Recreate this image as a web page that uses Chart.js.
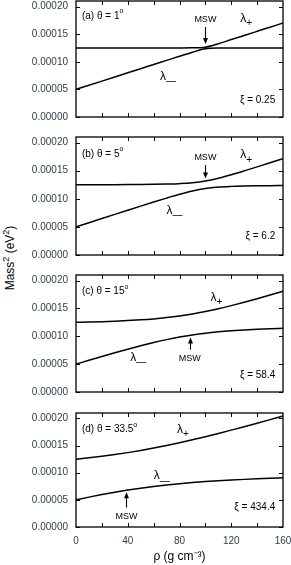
<!DOCTYPE html>
<html>
<head>
<meta charset="utf-8">
<script src="https://cdn.jsdelivr.net/npm/chart.js@4.4.1/dist/chart.umd.min.js"></script>
<style>
  body { margin: 0; background: #fff; }
  #wrap { position: relative; width: 291px; height: 565px; overflow: hidden; }
  .panel { position: absolute; left: 0; width: 291px; }
  .ytitle {
    position: absolute; left: 9px; top: 258px;
    transform: translate(-50%, -50%) rotate(-90deg);
    font: 12px "Liberation Sans", Arial, sans-serif; color: #000; white-space: nowrap;
  }
  .ytitle sup { font-size: 9px; }
</style>
</head>
<body>
<div id="wrap">
  <div class="ytitle">Mass<sup>2</sup> (eV<sup>2</sup>)</div>
</div>
<script>
// density values (g cm^-3)
const rho = [0, 10, 20, 30, 40, 50, 60, 70, 80, 90, 100, 110, 120, 130, 140, 150, 160];
const xMarks = [20, 40, 60, 80, 100, 120, 140];
const yTicks = [0, 0.00005, 0.0001, 0.00015, 0.0002];

// eigenvalues (eV^2)
const plusA  = [12.5e-5, 12.5e-5, 12.5e-5, 12.5e-5, 12.501e-5, 12.501e-5, 12.502e-5, 12.505e-5, 12.509e-5, 12.52e-5, 12.631e-5, 13.274e-5, 14.014e-5, 14.76e-5, 15.508e-5, 16.257e-5, 17.006e-5];
const minusA = [5.0e-5, 5.75e-5, 6.5e-5, 7.25e-5, 8.0e-5, 8.75e-5, 9.5e-5, 10.245e-5, 10.991e-5, 11.73e-5, 12.369e-5, 12.476e-5, 12.486e-5, 12.49e-5, 12.492e-5, 12.493e-5, 12.494e-5];
const plusB  = [12.5e-5, 12.506e-5, 12.514e-5, 12.524e-5, 12.538e-5, 12.556e-5, 12.583e-5, 12.626e-5, 12.701e-5, 12.85e-5, 13.154e-5, 13.656e-5, 14.287e-5, 14.974e-5, 15.688e-5, 16.414e-5, 17.147e-5];
const minusB = [5.0e-5, 5.744e-5, 6.486e-5, 7.226e-5, 7.962e-5, 8.694e-5, 9.417e-5, 10.124e-5, 10.799e-5, 11.4e-5, 11.846e-5, 12.094e-5, 12.213e-5, 12.276e-5, 12.312e-5, 12.336e-5, 12.353e-5];
const plusC  = [12.5e-5, 12.555e-5, 12.623e-5, 12.707e-5, 12.813e-5, 12.949e-5, 13.124e-5, 13.351e-5, 13.641e-5, 14.004e-5, 14.441e-5, 14.945e-5, 15.505e-5, 16.108e-5, 16.743e-5, 17.403e-5, 18.08e-5];
const minusC = [5.0e-5, 5.695e-5, 6.377e-5, 7.043e-5, 7.687e-5, 8.301e-5, 8.876e-5, 9.399e-5, 9.859e-5, 10.246e-5, 10.559e-5, 10.805e-5, 10.995e-5, 11.142e-5, 11.257e-5, 11.347e-5, 11.42e-5];
const plusD  = [12.5e-5, 12.745e-5, 13.025e-5, 13.344e-5, 13.702e-5, 14.101e-5, 14.54e-5, 15.017e-5, 15.528e-5, 16.07e-5, 16.64e-5, 17.233e-5, 17.846e-5, 18.477e-5, 19.122e-5, 19.78e-5, 20.449e-5];
const minusD = [5.0e-5, 5.505e-5, 5.975e-5, 6.406e-5, 6.798e-5, 7.149e-5, 7.46e-5, 7.733e-5, 7.972e-5, 8.18e-5, 8.361e-5, 8.517e-5, 8.654e-5, 8.773e-5, 8.878e-5, 8.97e-5, 9.051e-5];

const thetaLabels = ['(a) θ = 1', '(b) θ = 5', '(c) θ = 15', '(d) θ = 33.5'];
const xiLabels = ['ξ = 0.25', 'ξ = 6.2', 'ξ = 58.4', 'ξ = 434.4'];

const FONT = '"Liberation Sans", Arial, sans-serif';
const TICK_COLOR = '#2f3f48';

// draw text made of normal / superscript / subscript pieces
function drawRich(ctx, segs, x, y, align, size) {
    const sizeOf = s => s.sub ? Math.round(size * 0.8) : s.sup ? Math.round(size * 0.7) : size;
    let total = 0;
    segs.forEach(s => { ctx.font = sizeOf(s) + 'px ' + FONT; total += ctx.measureText(s.t).width; });
    let cx = align === 'right' ? x - total : align === 'center' ? x - total / 2 : x;
    ctx.textAlign = 'left';
    ctx.textBaseline = 'middle';
    segs.forEach(s => {
        ctx.font = sizeOf(s) + 'px ' + FONT;
        const dy = s.sup ? -size * 0.45 : s.sub ? size * 0.42 : 0;
        ctx.fillText(s.t, cx, y + dy);
        cx += ctx.measureText(s.t).width;
    });
}

const framePlugin = {
    id: 'frame',
    afterDatasetsDraw(chart) {
        const { ctx, chartArea: a, scales: { x, y } } = chart;
        ctx.save();
        ctx.strokeStyle = '#000';
        ctx.lineWidth = 1.3;
        ctx.strokeRect(a.left, a.top, a.right - a.left, a.bottom - a.top);
        ctx.beginPath();
        xMarks.forEach(v => {
            const px = Math.round(x.getPixelForValue(v)) + 0.5;
            ctx.moveTo(px, a.bottom); ctx.lineTo(px, a.bottom - 4);
            ctx.moveTo(px, a.top); ctx.lineTo(px, a.top + 4);
        });
        yTicks.forEach(v => {
            const py = Math.round(y.getPixelForValue(v)) + 0.5;
            ctx.moveTo(a.left, py); ctx.lineTo(a.left + 4, py);
            ctx.moveTo(a.right, py); ctx.lineTo(a.right - 4, py);
        });
        ctx.lineWidth = 1;
        ctx.stroke();
        ctx.restore();
    }
};

const notesPlugin = {
    id: 'notes',
    afterDatasetsDraw(chart, args, opts) {
        const { ctx, scales: { x, y } } = chart;
        ctx.save();
        ctx.fillStyle = '#000';
        ctx.strokeStyle = '#000';
        (opts.items || []).forEach(n => {
            if (n.arrow) {
                const px = Math.round(x.getPixelForValue(n.x)) + 0.5;
                const y1 = y.getPixelForValue(n.from), y2 = y.getPixelForValue(n.to);
                const dir = y2 > y1 ? 1 : -1;
                ctx.lineWidth = 1.1;
                ctx.beginPath();
                ctx.moveTo(px, y1); ctx.lineTo(px, y2 - dir * 4);
                ctx.stroke();
                ctx.beginPath();
                ctx.moveTo(px, y2);
                ctx.lineTo(px - 2.5, y2 - dir * 6);
                ctx.lineTo(px + 2.5, y2 - dir * 6);
                ctx.closePath();
                ctx.fill();
            } else {
                drawRich(ctx, n.segs, x.getPixelForValue(n.x), y.getPixelForValue(n.y), n.align || 'left', n.size || 10);
            }
        });
        ctx.restore();
    }
};

const lamPlus = [{ t: 'λ' }, { t: '+', sub: true }];
const lamMinus = [{ t: 'λ' }, { t: '—', sub: true }];
const msw = [{ t: 'MSW' }];

const panels = [
    { top: 0, padTop: 1, box: 116, plus: plusA, minus: minusA, notes: [
        { segs: [{ t: thetaLabels[0] }, { t: 'o', sup: true }], x: 4.6, y: 18.3e-5 },
        { segs: msw, x: 100, y: 17.6e-5, align: 'center', size: 9 },
        { arrow: true, x: 100, from: 16.3e-5, to: 13.2e-5 },
        { segs: lamPlus, x: 127, y: 17.8e-5, size: 12 },
        { segs: lamMinus, x: 65, y: 7.3e-5, size: 12 },
        { segs: [{ t: xiLabels[0] }], x: 154, y: 3.1e-5, align: 'right' }
    ]},
    { top: 129, padTop: 8, box: 118, plus: plusB, minus: minusB, notes: [
        { segs: [{ t: thetaLabels[1] }, { t: 'o', sup: true }], x: 4.6, y: 18.0e-5 },
        { segs: msw, x: 100, y: 17.4e-5, align: 'center', size: 9 },
        { arrow: true, x: 100, from: 16.0e-5, to: 13.6e-5 },
        { segs: lamPlus, x: 127, y: 17.8e-5, size: 12 },
        { segs: lamMinus, x: 70, y: 7.9e-5, size: 12 },
        { segs: [{ t: xiLabels[1] }], x: 154, y: 3.3e-5, align: 'right' }
    ]},
    { top: 267, padTop: 8, box: 117, plus: plusC, minus: minusC, notes: [
        { segs: [{ t: thetaLabels[2] }, { t: 'o', sup: true }], x: 4.6, y: 18.0e-5 },
        { segs: lamPlus, x: 104, y: 17.0e-5, size: 12 },
        { segs: lamMinus, x: 42, y: 6.2e-5, size: 12 },
        { segs: msw, x: 88, y: 6.0e-5, align: 'center', size: 9 },
        { arrow: true, x: 88, from: 7.6e-5, to: 9.8e-5 },
        { segs: [{ t: xiLabels[2] }], x: 154, y: 3.0e-5, align: 'right' }
    ]},
    { top: 405, padTop: 8, box: 114, plus: plusD, minus: minusD, last: true, notes: [
        { segs: [{ t: thetaLabels[3] }, { t: 'o', sup: true }], x: 4.6, y: 18.0e-5 },
        { segs: lamPlus, x: 78, y: 18.0e-5, size: 12 },
        { segs: lamMinus, x: 60, y: 9.4e-5, size: 12 },
        { segs: msw, x: 39, y: 2.0e-5, align: 'center', size: 9 },
        { arrow: true, x: 39, from: 3.6e-5, to: 6.4e-5 },
        { segs: [{ t: xiLabels[3] }], x: 154, y: 3.6e-5, align: 'right' }
    ]}
];

const wrap = document.getElementById('wrap');

panels.forEach(p => {
    const xHeight = p.last ? 38 : 0;
    const bottomPad = p.last ? 0 : 8;
    const box = document.createElement('div');
    box.className = 'panel';
    box.style.top = p.top + 'px';
    box.style.height = (p.padTop + p.box + xHeight + bottomPad) + 'px';
    const canvas = document.createElement('canvas');
    box.appendChild(canvas);
    wrap.appendChild(box);

    const line = vals => ({
        data: rho.map((r, k) => ({ x: r, y: vals[k] })),
        borderColor: '#000',
        borderWidth: 1.5,
        pointRadius: 0,
        fill: false,
        cubicInterpolationMode: 'monotone'
    });

    new Chart(canvas, {
        type: 'line',
        data: { datasets: [line(p.plus), line(p.minus)] },
        options: {
            responsive: true,
            maintainAspectRatio: false,
            animation: false,
            devicePixelRatio: 1,
            layout: { padding: { left: 0, right: 8, top: p.padTop, bottom: bottomPad } },
            plugins: {
                legend: { display: false },
                tooltip: { enabled: false },
                notes: { items: p.notes }
            },
            scales: {
                x: {
                    type: 'linear', min: 0, max: 160,
                    display: !!p.last,
                    grid: { display: false, drawTicks: false },
                    border: { display: false },
                    ticks: { stepSize: 40, padding: 8, color: TICK_COLOR, font: { family: FONT, size: 10 } },
                    title: { display: true, text: 'ρ (g cm⁻³)', color: '#000', font: { family: FONT, size: 12 }, padding: { top: 0, bottom: 1 } },
                    afterFit: s => { s.height = xHeight; s.paddingLeft = 0; s.paddingRight = 0; }
                },
                y: {
                    min: 0, max: 0.00021,
                    grid: { display: false, drawTicks: false },
                    border: { display: false },
                    afterBuildTicks: s => { s.ticks = yTicks.map(v => ({ value: v })); },
                    ticks: { padding: 8, color: TICK_COLOR, font: { family: FONT, size: 10 }, callback: v => v.toFixed(5) },
                    afterFit: s => { s.width = 76; s.paddingTop = 0; s.paddingBottom = 0; }
                }
            }
        },
        plugins: [framePlugin, notesPlugin]
    });
});
</script>
</body>
</html>
